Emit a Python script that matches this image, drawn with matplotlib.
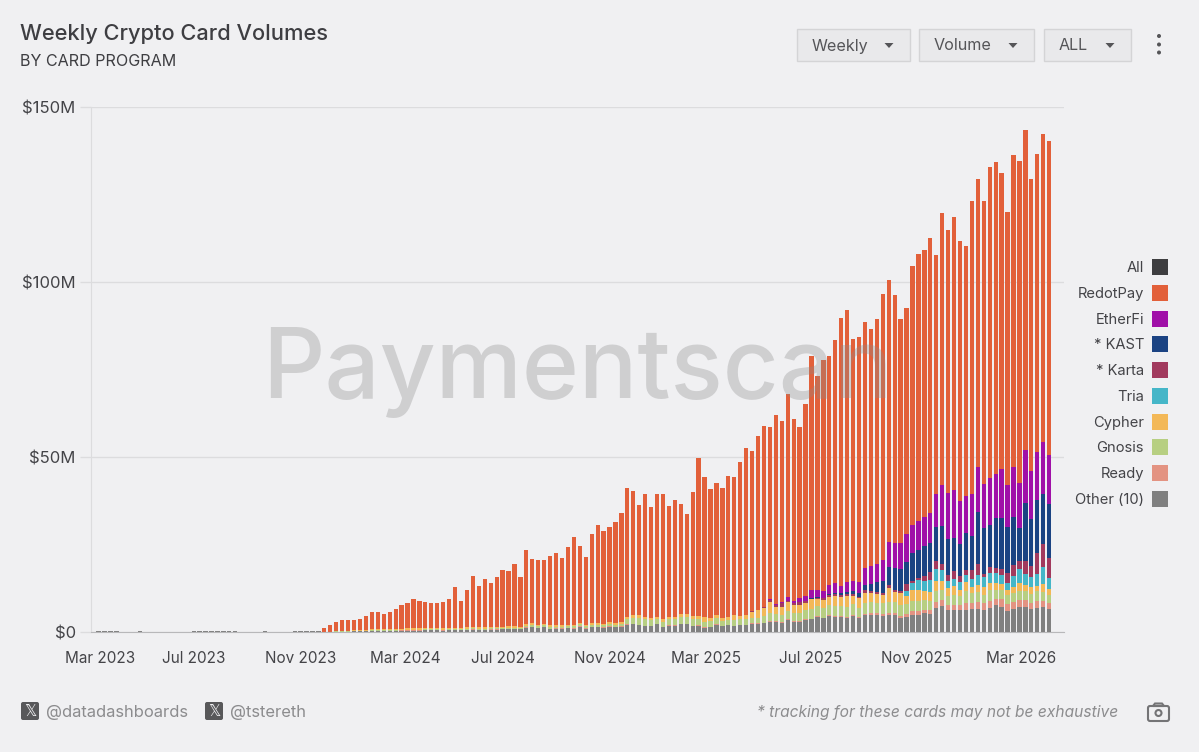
import numpy as np
import matplotlib
matplotlib.use('Agg')
import matplotlib.pyplot as plt
from matplotlib.patches import Rectangle, FancyBboxPatch, Circle, Polygon

# weekly volumes in $M
tick_weeks = [0.2, 16, 34, 51.6, 68, 86, 102.2, 119.9, 137.6, 155.3]
tick_labels = ['Mar 2023', 'Jul 2023', 'Nov 2023', 'Mar 2024', 'Jul 2024',
               'Nov 2024', 'Mar 2025', 'Jul 2025', 'Nov 2025', 'Mar 2026']

# weeks before RedotPay shows up, only tiny "other" volume
lead_other = [0.2, 0.15, 0.2, 0.25, 0.1, 0.05, 0.1, 0.15, 0.1, 0, 0, 0, 0, 0.05, 0, 0, 0.2, 0.2, 0.3,
              0.3, 0.2, 0.3, 0.15, 0.25, 0.1, 0, 0, 0.1, 0.15, 0, 0, 0, 0.05, 0.15, 0.25, 0.25, 0.3, 0.25]

total = [1.2, 1.9, 2.9, 3.5, 3.3, 3.5, 3.7, 4.6, 5.8, 5.8, 5.2, 5.8, 6.6, 7.7, 8.2, 9.3, 8.8,
         8.5, 8.3, 8.3, 8.5, 9.5, 12.9, 8.9, 12.0, 16.0, 13.2, 15.1, 13.9, 15.8, 17.8, 17.5,
         19.4, 15.8, 23.4, 20.9, 20.5, 20.7, 21.6, 22.5, 21.1, 24.4, 27.2, 24.5, 21.5, 28.1,
         30.5, 28.9, 30.1, 31.5, 34.0, 41.1, 40.3, 36.2, 39.3, 35.6, 39.5, 39.5, 36.0, 37.6,
         36.7, 33.7, 40.1, 49.6, 44.4, 41.0, 42.5, 41.2, 44.6, 44.3, 48.6, 52.5, 51.7, 56.1,
         58.9, 58.5, 62.0, 60.3, 68.0, 60.8, 58.6, 65.1, 78.9, 73.2, 77.8, 79.0, 83.5, 89.6,
         92.1, 83.7, 84.2, 88.7, 86.7, 89.3, 96.6, 100.5, 96.2, 89.3, 92.5, 104.6, 108.0,
         109.2, 112.5, 107.8, 119.7, 114.8, 118.7, 111.6, 110.3, 123.1, 129.5, 123.1, 133.0,
         134.2, 131.1, 119.9, 136.3, 134.7, 143.4, 129.5, 136.7, 142.3, 140.2]

other = [0, 0, .1, .1, .1, .2, .2, .2, .3, .3, .3, .3, .3, .4, .4, .4, .4, .5, .5, .5, .4, .5, .5,
         .5, .6, .7, .6, .6, .7, .7, .8, .9, .9, .8,
         1.2, 1.4, 1.1, 1.4, .9, 1, 1, 1.1, 1, 1.5, 1, 1.4, 1.4, 1.2, 1.5, 1.3, 1.5, 2.1, 2.2, 2,
         1.7, 1.6, 2.2, 1.3, 1.8, 1.8, 2.3, 2.3, 1.7, 1.8,
         1.2, 1.4, 2.1, 1.6, 1.9, 1.7, 2.0, 2.0, 2.4, 2.4, 2.6, 3.0, 3.0, 2.7, 3.4, 3.0, 3.0, 3.5,
         3.6, 4.3, 3.9, 4.6, 4.3, 4.2, 4.0, 4.7, 4.1, 4.9, 4.9, 4.9, 4.7, 5.0, 5.0, 4.0, 4.4, 5.0,
         5.0, 5.4, 5.2, 6.8, 7.5, 6.3, 6.2, 6.2, 6.4, 6.6, 6.6, 6.3, 6.9, 7.7, 7.2, 6.0, 6.5, 7.2,
         7.2, 6.7, 6.9, 7.1, 6.5]

ready = [0, 0, 0, 0, 0, 0, .05, .05, .05, .05, .05, .05, .05, .05, .05, .05, .05, .05, .05, .05,
         .05, .05, .05, .05, .05, .05, .05, .05, .05, .05, .05, .05, .05, .05,
         .1, .1, .1, .1, .1, .1, .1, .1, .1, .1, .1, .1, .1, .1, .1, .1, .1, .1, .1, .1, .1, .1,
         .1, .1, .1, .1, .1, .1, .1, .1,
         .1, .1, .1, .1, .1, .1, .1, .1, .1, .1, .1, .1, .1, .1, .2, .2, .2, .2, .2, .2, .2, .3,
         .3, .3, .3, .3, .3, .3, .4, .4, .5, .5, .5, .5,
         .7, 1.0, 1.1, 1.0, 1.0, 1.9, 1.6, 1.4, 1.4, 1.5, 2.0, 1.8, 2.0, 2.0, 2.0, 1.6, 2.1, 2.1,
         2.0, 1.9, 1.9, 1.7, 2.0, 1.7, 1.9]

gnosis = [0, 0, .05, .05, .1, .1, .1, .1, .1, .1, .1, .1, .15, .15, .2, .2, .2, .2, .2, .2, .2, .2,
          .3, .3, .3, .3, .3, .3, .3, .3, .3, .3, .3, .3,
          .5, .6, .5, .5, .5, .4, .4, .5, .5, .6, .5, .6, .6, .6, .7, .7, .8, 1.4, 1.8, 1.9, 1.9,
          1.6, 1.3, 1.6, 1.7, 1.7, 1.9, 1.9, 1.9, 1.9,
          1.7, 1.6, 1.7, 1.4, 1.5, 1.7, 1.6, 1.6, 1.6, 1.6, 1.8, 2.4, 2.0, 2.2, 2.5, 2.2, 2.3, 2.7,
          2.9, 2.8, 2.8, 2.9, 2.7, 2.9, 2.8, 2.9, 2.6, 3.1, 3.3, 3.0, 3.0, 3.0, 3.0, 3.3, 2.8,
          2.8, 2.7, 2.8, 2.8, 3.0, 2.9, 2.7, 3.0, 2.5, 3.3, 2.8, 2.8, 2.4, 3.0, 2.8, 2.6, 2.4, 2.6,
          2.7, 2.7, 2.5, 2.7, 2.6, 2.3]

cypher = [0, .1, .1, .2, .2, .2, .3, .3, .3, .3, .3, .3, .3, .4, .4, .4, .4, .4, .4, .4, .4, .4, .4,
          .4, .4, .4, .4, .4, .4, .4, .4, .4, .4, .4,
          .4, .4, .4, .4, .4, .5, .5, .4, .5, .4, .5, .4, .5, .5, .5, .5, .5, .7, .7, .8, .7, .6,
          .6, .8, .8, .8, .8, .8, .9, .9,
          1.3, 1.0, 1.0, 1.0, .8, 1.4, 1.0, 1.3, 1.7, 2.1, 2.5, 3.1, 2.1, 2.2, 2.4, 2.3, 2.2, 1.9,
          2.6, 2.2, 2.3, 2.3, 3.0, 2.7, 3.2, 2.3, 2.6, 2.8, 2.6, 2.5, 2.4, 4.0, 3.0, 3.4, 2.4,
          3.1, 3.1, 2.5, 2.3, 2.9, 2.5, 2.3, 2.5, 1.9, 2.7, 1.7, 2.0, 2.2, 2.0, 2.0, 1.7, 1.5, 1.7,
          2.3, 1.6, 2.0, 1.6, 2.4, 1.7]

# the newer programs, last 59 weeks only
tria = [0] * 34 + [1.4, 2.2, 3.1, 2.9, 3.7, 3.3, 3.2, 1.9, 2.1, 2.2, 1.9, 2.2, 3.0, 2.7, 3.0, 2.7,
                   2.7, 2.1, 3.2, 3.8, 3.2, 2.7, 3.4, 4.9, 3.1]
karta = [0] * 8 + [.2, .2, .2, .6, .6, 1.0, .5, .5, 1.0, .5, .2, .3, .4, .5, .5, .6, .5, .7, .3, .8,
                   .4, .5, .5, .9, .5, .5,
                   2.1, .5, .5, 1.4, 2.1, 2.4, 1.7, 1.7, 2.2, 1.8, 1.4, 2.7, 2.9, 1.1, 1.8, 1.4,
                   1.7, 2.7, 3.1, 2.4, 3.6, 3.3, 5.9, 6.4, 5.7]
kast = [0] * 18 + [.1, .2, .2, .3, .4, .5, .6, .8, 1.2, 1.4, 2.2, 3.0, 3.5, 5.2, 6.2, 6.3,
                   6.3, 8.0, 8.0, 8.7, 8.4, 9.7, 11.0, 10.2, 9.5, 9.1, 10.7, 9.7, 15.0, 13.1, 11.9,
                   14.3, 14.7, 13.2, 13.7, 9.3, 16.7, 13.3, 15.2, 14.3, 15.4]
etherfi = [0] * 11 + [.3, .1, .3, .9, .7, .9, 1.5, 2.5, 2.1, 2.0, 2.5, 2.8, 2.0, 2.8, 3.0, 3.2, 5.0,
                      5.2, 5.2, 5.9, 7.2, 7.2, 7.3,
                      7.8, 8.0, 8.2, 8.2, 8.5, 9.4, 11.7, 13.2, 13.6, 12.3, 10.4, 11.9, 12.8, 12.6,
                      13.5, 12.6, 13.9, 12.1, 14.4, 13.0, 15.2, 13.8, 13.8, 15.0, 13.9]

legend_names = ['All', 'RedotPay', 'EtherFi', '* KAST', '* Karta', 'Tria', 'Cypher', 'Gnosis',
                'Ready', 'Other (10)']
legend_colors = ['#3E3E40', '#E2603A', '#A010A8', '#1B4383', '#A23A5E', '#45B6C8', '#F3B857',
                 '#B7CF82', '#E39382', '#808080']

BG = '#F0F0F2'
FONT = 'Inter'
plt.rcParams['font.family'] = [FONT, 'DejaVu Sans']

W, H = 1199, 752
fig = plt.figure(figsize=(W / 100, H / 100), dpi=100, facecolor=BG)

# axes box in pixels: x 91..1064, y 107..632
ax = fig.add_axes([91 / W, 1 - 632 / H, (1064 - 91) / W, (632 - 107) / H], facecolor=BG)

n_lead = len(lead_other)
x_lead = np.arange(n_lead)
x_main = np.arange(n_lead, n_lead + len(total))
x_late = x_main[-len(tria):]
bw = 0.72

ax.bar(x_lead, lead_other, width=bw, color='#808080', zorder=2)
# RedotPay sits on top of the stack, so draw the whole height and cover the lower part
ax.bar(x_main, total, width=bw, color='#E2603A', zorder=2)

bottom = np.zeros(len(total))
for vals, c in [(other, '#808080'), (ready, '#E39382'), (gnosis, '#B7CF82'), (cypher, '#F3B857')]:
    ax.bar(x_main, vals, width=bw, bottom=bottom, color=c, zorder=3)
    bottom = bottom + np.array(vals)
bottom = bottom[-len(tria):]
for vals, c in [(tria, '#45B6C8'), (karta, '#A23A5E'), (kast, '#1B4383'), (etherfi, '#A010A8')]:
    ax.bar(x_late, vals, width=bw, bottom=bottom, color=c, zorder=3)
    bottom = bottom + np.array(vals)

ax.set_xlim(-1.28, 162.5)
ax.set_ylim(0, 150)
ax.set_yticks([0, 50, 100, 150])
ax.set_yticklabels(['$0', '$50M', '$100M', '$150M'], fontsize=12, color='#444448')
ax.set_xticks(tick_weeks)
ax.set_xticklabels(tick_labels, fontsize=11, color='#444448')
ax.tick_params(axis='x', length=0, pad=14)
ax.tick_params(axis='y', length=8, color='#DCDCDE', width=1, pad=3)
ax.grid(axis='y', color='#DCDCDE', lw=1, zorder=1)
ax.set_axisbelow(True)
for s in ['top', 'right']:
    ax.spines[s].set_visible(False)
ax.spines['left'].set_color('#DCDCDE')
ax.spines['bottom'].set_color('#B8B8BA')

# overlay in pixel coordinates for everything around the chart
ov = fig.add_axes([0, 0, 1, 1], facecolor='none')
ov.set_xlim(0, W)
ov.set_ylim(H, 0)
ov.axis('off')

# watermark
ov.text(577, 373, 'Paymentscan', fontsize=70, color='#8C8C8C', alpha=0.33, fontweight='medium',
        ha='center', va='center')

ov.text(20, 34.5, 'Weekly Crypto Card Volumes', fontsize=15.7, color='#3E3E42', fontweight='medium',
        va='center')
ov.text(20, 62, 'BY CARD PROGRAM', fontsize=11.6, color='#3E3E42', va='center')

# dropdowns
for label, x0, x1, tri in [('Weekly', 797, 910, 889), ('Volume', 919, 1034, 1013), ('ALL', 1044, 1131, 1110)]:
    ov.add_patch(Rectangle((x0, 29), x1 - x0, 32, fc='#E9E9EB', ec='#D4D4D6', lw=1))
    ov.text(x0 + 15, 46, label, fontsize=11.6, color='#555558', va='center')
    ov.add_patch(Polygon([(tri - 4.5, 43), (tri + 4.5, 43), (tri, 48)], fc='#555558', ec='none'))
for y in [36, 44.5, 52.5]:
    ov.add_patch(Circle((1159, y), 2, fc='#555558', ec='none'))

# legend
legend_y = [267, 293, 318.5, 344, 370, 396, 421.5, 447, 473, 498.5]
for name, c, y in zip(legend_names, legend_colors, legend_y):
    ov.text(1144, y + 1, name, fontsize=10.6, color='#444448', ha='right', va='center')
    ov.add_patch(Rectangle((1152, y - 8), 15.5, 16, fc=c, ec='none'))

# footer
for label, x0 in [('@datadashboards', 20), ('@tstereth', 204)]:
    ov.add_patch(FancyBboxPatch((x0 + 1, 702), 18, 18, boxstyle='round,pad=0,rounding_size=2',
                                fc='#58585A', ec='none'))
    ov.text(x0 + 10, 711, '\U0001D54F', fontsize=11, color='#F0F0F2', ha='center', va='center',
            family='DejaVu Sans')
    ov.text(x0 + 26, 712, label, fontsize=11.9, color='#8C8C8E', va='center')
ov.text(757, 712.5, '* tracking for these cards may not be exhaustive', fontsize=11.2, color='#8C8C8E',
        style='italic', va='center')

# camera icon
ov.add_patch(FancyBboxPatch((1148, 706), 21, 15, boxstyle='round,pad=0,rounding_size=2',
                            fc='none', ec='#747476', lw=1.5))
ov.add_patch(Polygon([(1153, 706), (1155, 703.5), (1162, 703.5), (1164, 706)], fc='none', ec='#747476', lw=1.5))
ov.add_patch(Circle((1158.5, 713), 3, fc='none', ec='#747476', lw=1.5))

fig.savefig('out.png', dpi=100, facecolor=BG)
